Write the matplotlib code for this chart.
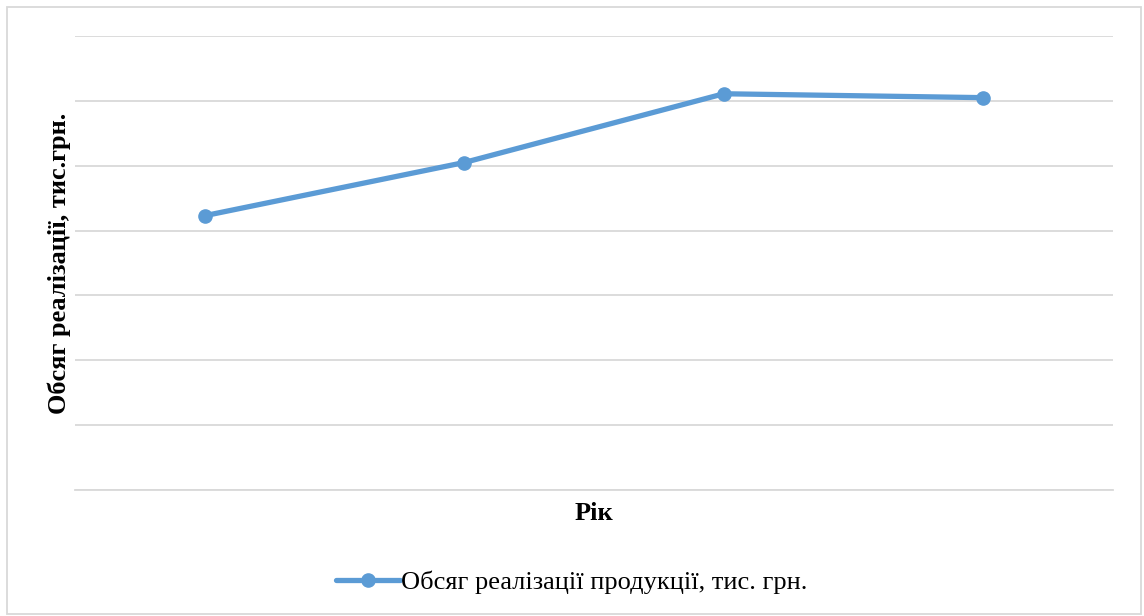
import matplotlib.pyplot as plt
from matplotlib.patches import Rectangle

# categories (tick labels are not shown on the original chart)
years = ['1', '2', '3', '4']
sales = [4.23, 5.05, 6.11, 6.05]

plt.rcParams['font.family'] = ['Liberation Serif', 'DejaVu Serif']

fig = plt.figure(figsize=(11.44, 6.16), dpi=100)
ax = fig.add_axes([0.0656, 0.2045, 0.9073, 0.737])

x = list(range(len(years)))
ax.plot(x, sales, color='#5B9BD5', lw=3.8, marker='o', ms=9.5,
        solid_capstyle='round', label='Обсяг реалізації продукції, тис. грн.', zorder=3)

ax.set_xlim(-0.5, len(years) - 0.5)
ax.set_ylim(0, 7)
ax.set_yticks(range(0, 8))
ax.set_xticks(x)
ax.tick_params(length=0, labelleft=False, labelbottom=False)
ax.grid(axis='y', color='#D9D9D9', lw=1.3)
for s in ['top', 'right', 'left']:
    ax.spines[s].set_visible(False)
ax.spines['bottom'].set_color('#D9D9D9')
ax.spines['bottom'].set_linewidth(1.3)

ax.set_ylabel('Обсяг реалізації, тис.грн.', fontsize=19, fontweight='bold')
ax.yaxis.set_label_coords(-0.004, 0.5)
ax.set_xlabel('Рік', fontsize=19, fontweight='bold')
ax.xaxis.set_label_coords(0.5, -0.026)

fig.legend(loc='center', bbox_to_anchor=(0.5, 0.055), frameon=False, fontsize=19,
           handlelength=2.4, handletextpad=0.05)

# light outer border
fig.patches.append(Rectangle((0.006, 0.003), 0.991, 0.986, transform=fig.transFigure,
                             fill=False, edgecolor='#D9D9D9', lw=1.3))

fig.savefig('out.png', dpi=100)
